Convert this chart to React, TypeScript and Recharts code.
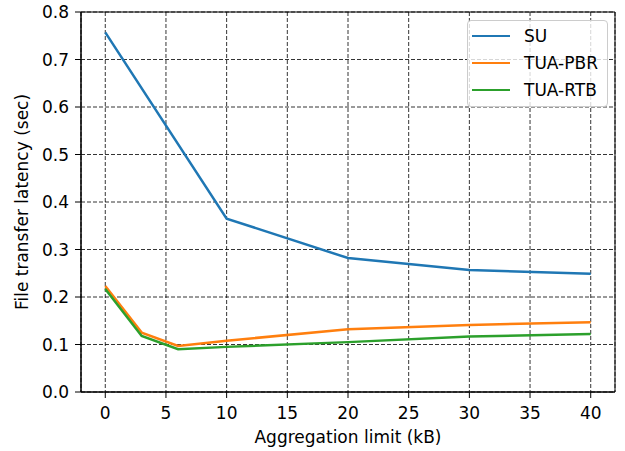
import React from "react"
import {
  LineChart,
  Line,
  XAxis,
  YAxis,
  CartesianGrid,
  Label,
  ReferenceArea,
} from "recharts"

// aggregation limit (kB)
const suLimits = [0, 10, 20, 30, 40]
const tuaLimits = [0, 3, 6, 10, 20, 30, 40]

// file transfer latency (sec)
const suLatency = [0.757, 0.365, 0.282, 0.257, 0.249]
const pbrLatency = [0.223, 0.125, 0.097, 0.108, 0.132, 0.141, 0.147]
const rtbLatency = [0.217, 0.118, 0.09, 0.095, 0.105, 0.117, 0.122]

const xTicks = [0, 5, 10, 15, 20, 25, 30, 35, 40]
const yTicks = [0, 0.1, 0.2, 0.3, 0.4, 0.5, 0.6, 0.7, 0.8]

const seriesNames = ["SU", "TUA-PBR", "TUA-RTB"]
const colors = ["#1f77b4", "#ff7f0e", "#2ca02c"]

const FONT = "DejaVu Sans"

const toPoints = (xs: number[], ys: number[]) => xs.map((x, i) => ({ x, y: ys[i] }))

const series = [
  toPoints(suLimits, suLatency),
  toPoints(tuaLimits, pbrLatency),
  toPoints(tuaLimits, rtbLatency),
]

// legend drawn on top of the plot, upper right like matplotlib's "best"
function LegendBox() {
  return (
    <div
      style={{
        position: "absolute",
        left: 467,
        top: 20,
        width: 141,
        height: 87,
        boxSizing: "border-box",
        border: "1px solid #cccccc",
        borderRadius: 4,
        background: "rgba(255,255,255,0.8)",
        fontFamily: FONT,
        fontSize: 17,
        color: "#000",
      }}
    >
      {seriesNames.map((name, i) => (
        <div
          key={name}
          style={{
            position: "absolute",
            left: 0,
            top: 1.5 + i * 27,
            height: 27,
            display: "flex",
            alignItems: "center",
          }}
        >
          <div style={{ marginLeft: 4, width: 38, height: 2.5, background: colors[i] }} />
          <span style={{ marginLeft: 14, lineHeight: "27px", whiteSpace: "nowrap" }}>{name}</span>
        </div>
      ))}
    </div>
  )
}

export default function App() {
  const tickStyle = { fontFamily: FONT, fontSize: 17, fill: "#000" }
  return (
    <div style={{ position: "absolute", left: 0, top: 0, width: 625, height: 451, background: "#fff" }}>
      <LineChart width={625} height={451} margin={{ top: 12, right: 10, left: 0, bottom: 0 }}>
        <CartesianGrid stroke="#000" strokeWidth={0.8} strokeDasharray="4 2" />
        <XAxis
          dataKey="x"
          type="number"
          domain={[-2, 42]}
          ticks={xTicks}
          allowDataOverflow
          height={59}
          tickSize={6}
          tickMargin={9}
          tick={tickStyle}
          axisLine={{ stroke: "#000" }}
          tickLine={{ stroke: "#000" }}
        >
          <Label
            content={() => (
              <text x={348} y={443} textAnchor="middle" fontFamily={FONT} fontSize={17} fill="#000">
                Aggregation limit (kB)
              </text>
            )}
          />
        </XAxis>
        <YAxis
          type="number"
          domain={[0, 0.8]}
          ticks={yTicks}
          allowDataOverflow
          width={81}
          tickSize={6}
          tickMargin={6}
          tick={tickStyle}
          tickFormatter={(v: number) => v.toFixed(1)}
          axisLine={{ stroke: "#000" }}
          tickLine={{ stroke: "#000" }}
        >
          <Label
            content={() => (
              <text
                x={28}
                y={202}
                transform="rotate(-90 28 202)"
                textAnchor="middle"
                fontFamily={FONT}
                fontSize={17}
                fill="#000"
              >
                File transfer latency (sec)
              </text>
            )}
          />
        </YAxis>
        <ReferenceArea x1={-2} x2={42} y1={0} y2={0.8} fill="none" stroke="#000" strokeWidth={1} ifOverflow="visible" />
        {series.map((data, i) => (
          <Line
            key={seriesNames[i]}
            data={data}
            dataKey="y"
            name={seriesNames[i]}
            stroke={colors[i]}
            strokeWidth={2.5}
            dot={false}
            activeDot={false}
            isAnimationActive={false}
          />
        ))}
      </LineChart>
      <LegendBox />
    </div>
  )
}
